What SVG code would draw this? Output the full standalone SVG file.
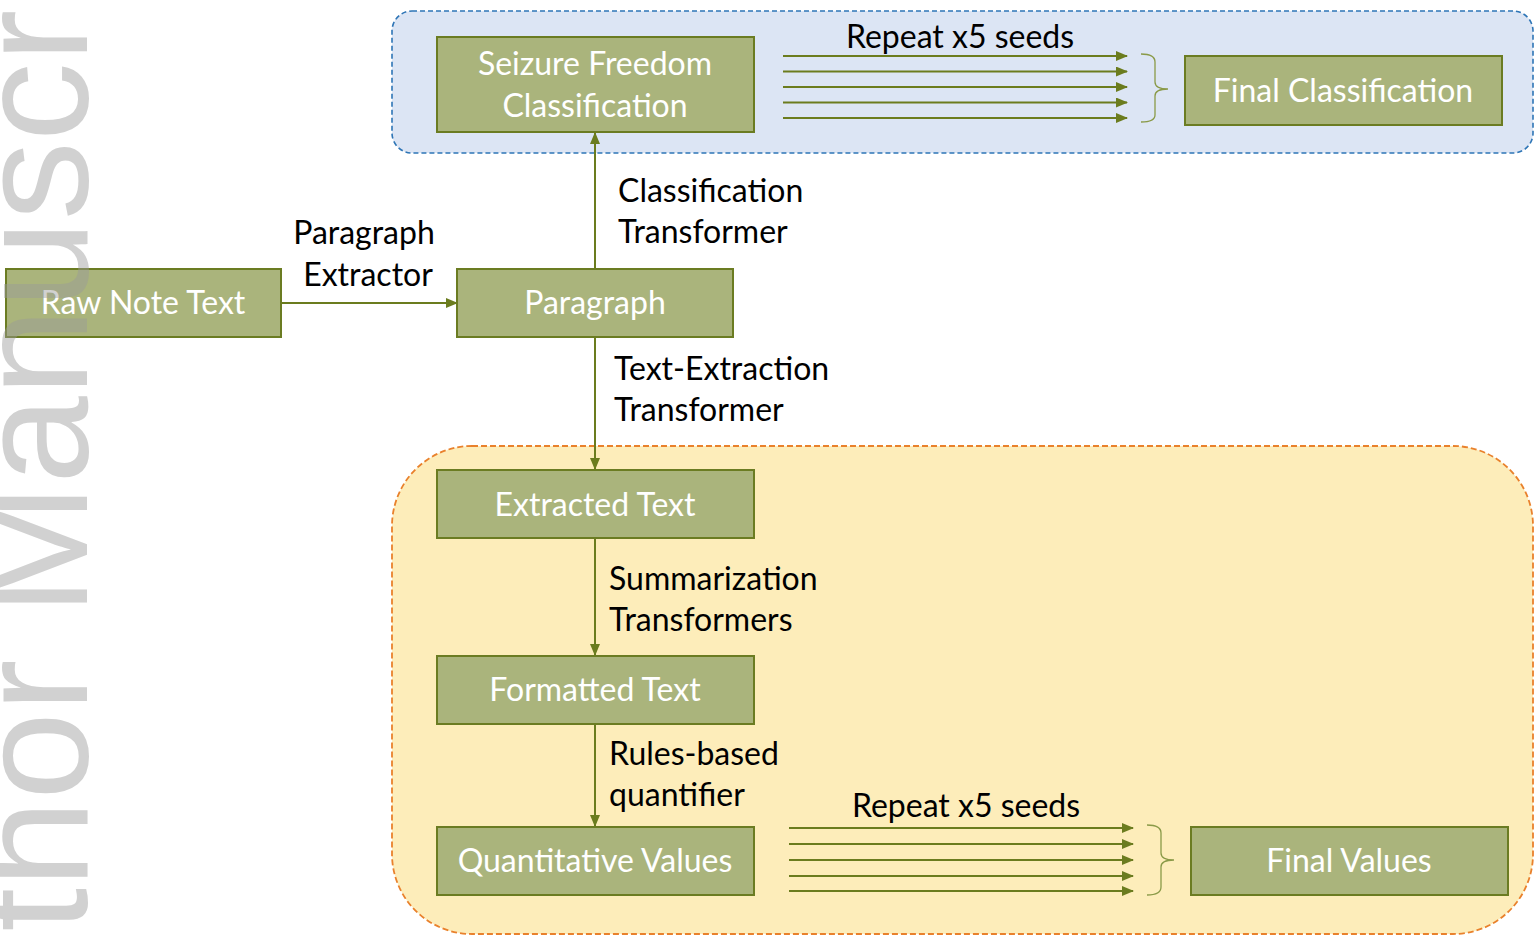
<svg xmlns="http://www.w3.org/2000/svg" width="1535" height="937" viewBox="0 0 1535 937">
  <style>
    .box { fill: #aab47c; stroke: #6b7c22; stroke-width: 2; }
    .btxt { font-family: Lato, "Open Sans", sans-serif; font-size: 32px; fill: #ffffff; text-anchor: middle; }
    .lbl { font-family: Lato, "Open Sans", sans-serif; font-size: 32px; fill: #000000; }
    .mid { text-anchor: middle; }
    .wire { stroke: #6b7c1e; stroke-width: 2; fill: none; }
    .brace { stroke: #8a9a48; stroke-width: 1.3; fill: none; }
    .wm { font-family: "Liberation Sans", Arial, sans-serif; font-size: 158px; fill: #9a9a9a; opacity: 0.45; }
  </style>
  <defs>
    <marker id="arrow" markerUnits="userSpaceOnUse" markerWidth="12" markerHeight="10" viewBox="0 0 12 10" refX="11" refY="5" orient="auto">
      <path d="M0,0 L12,5 L0,10 Z" fill="#6b7c1e"/>
    </marker>
  </defs>

  <rect width="1535" height="937" fill="#ffffff"/>

  <!-- group containers -->
  <g id="classification-group">
    <rect x="392" y="11" width="1141" height="142" rx="20" ry="20" fill="#dce5f4" stroke="#2e75b6" stroke-width="1.6" stroke-dasharray="5 3"/>
  </g>
  <g id="extraction-group">
    <rect x="392" y="446" width="1141" height="488" rx="80" ry="80" fill="#fdedba" stroke="#e9812c" stroke-width="1.8" stroke-dasharray="6 3"/>
  </g>

  <!-- connectors -->
  <g id="connectors">
    <line class="wire" x1="281" y1="303" x2="457" y2="303" marker-end="url(#arrow)"/>
    <line class="wire" x1="595" y1="269" x2="595" y2="133" marker-end="url(#arrow)"/>
    <line class="wire" x1="595" y1="337" x2="595" y2="469" marker-end="url(#arrow)"/>
    <line class="wire" x1="595" y1="538" x2="595" y2="655" marker-end="url(#arrow)"/>
    <line class="wire" x1="595" y1="724" x2="595" y2="826" marker-end="url(#arrow)"/>

    <line class="wire" x1="783" y1="56" x2="1127" y2="56" marker-end="url(#arrow)"/>
    <line class="wire" x1="783" y1="71.5" x2="1127" y2="71.5" marker-end="url(#arrow)"/>
    <line class="wire" x1="783" y1="87" x2="1127" y2="87" marker-end="url(#arrow)"/>
    <line class="wire" x1="783" y1="102.5" x2="1127" y2="102.5" marker-end="url(#arrow)"/>
    <line class="wire" x1="783" y1="118" x2="1127" y2="118" marker-end="url(#arrow)"/>
    <path class="brace" d="M1141,54 Q1155,54 1155,62 L1155,82 Q1155,89 1168,89 Q1155,89 1155,96 L1155,115 Q1155,122 1141,122"/>

    <line class="wire" x1="789" y1="828" x2="1133" y2="828" marker-end="url(#arrow)"/>
    <line class="wire" x1="789" y1="844" x2="1133" y2="844" marker-end="url(#arrow)"/>
    <line class="wire" x1="789" y1="860" x2="1133" y2="860" marker-end="url(#arrow)"/>
    <line class="wire" x1="789" y1="876" x2="1133" y2="876" marker-end="url(#arrow)"/>
    <line class="wire" x1="789" y1="891" x2="1133" y2="891" marker-end="url(#arrow)"/>
    <path class="brace" d="M1147,825 Q1161,825 1161,833 L1161,853 Q1161,860 1174,860 Q1161,860 1161,867 L1161,887 Q1161,895 1147,895"/>

    <text class="lbl mid" x="364" y="244">Paragraph</text>
    <text class="lbl mid" x="368" y="286">Extractor</text>
    <text class="lbl" x="618" y="202">Classification</text>
    <text class="lbl" x="618" y="243">Transformer</text>
    <text class="lbl" x="614" y="380">Text-Extraction</text>
    <text class="lbl" x="614" y="421">Transformer</text>
    <text class="lbl" x="609" y="590">Summarization</text>
    <text class="lbl" x="609" y="631">Transformers</text>
    <text class="lbl" x="609" y="765">Rules-based</text>
    <text class="lbl" x="609" y="806">quantifier</text>
    <text class="lbl mid" x="960" y="48">Repeat x5 seeds</text>
    <text class="lbl mid" x="966" y="817">Repeat x5 seeds</text>
  </g>

  <!-- nodes -->
  <g id="seizure-freedom-classification">
    <rect class="box" x="437" y="37" width="317" height="95"/>
    <text class="btxt" x="595" y="75">Seizure Freedom</text>
    <text class="btxt" x="595" y="117">Classification</text>
  </g>
  <g id="final-classification">
    <rect class="box" x="1185" y="56" width="317" height="69"/>
    <text class="btxt" x="1343" y="102">Final Classification</text>
  </g>
  <g id="raw-note-text">
    <rect class="box" x="6" y="269" width="275" height="68"/>
    <text class="btxt" x="143" y="314">Raw Note Text</text>
  </g>
  <g id="paragraph">
    <rect class="box" x="457" y="269" width="276" height="68"/>
    <text class="btxt" x="595" y="314">Paragraph</text>
  </g>
  <g id="extracted-text">
    <rect class="box" x="437" y="470" width="317" height="68"/>
    <text class="btxt" x="595" y="516">Extracted Text</text>
  </g>
  <g id="formatted-text">
    <rect class="box" x="437" y="656" width="317" height="68"/>
    <text class="btxt" x="595" y="701">Formatted Text</text>
  </g>
  <g id="quantitative-values">
    <rect class="box" x="437" y="827" width="317" height="68"/>
    <text class="btxt" x="595" y="872">Quantitative Values</text>
  </g>
  <g id="final-values">
    <rect class="box" x="1191" y="827" width="317" height="68"/>
    <text class="btxt" x="1349" y="872">Final Values</text>
  </g>

  <!-- vertical margin stamp -->
  <text class="wm" transform="translate(87 937) rotate(-90)" x="-188" y="0">Author Manuscript</text>
</svg>
